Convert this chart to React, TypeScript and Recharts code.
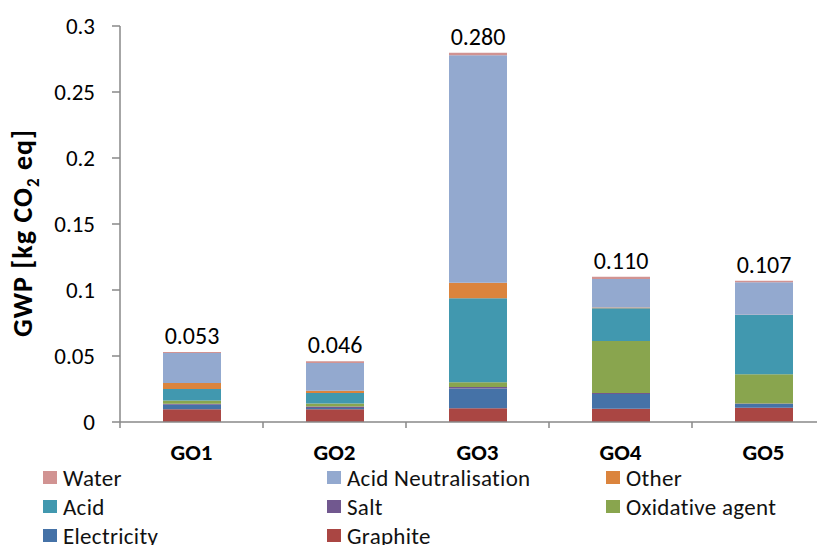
import React from 'react';
import { BarChart, Bar, XAxis, YAxis, Legend, LabelList } from 'recharts';

const categories = ['GO1', 'GO2', 'GO3', 'GO4', 'GO5'];
const graphite = [0.0096, 0.0096, 0.0104, 0.0101, 0.0108];
const electricity = [0.0035, 0.001, 0.0149, 0.0111, 0.0028];
const salt = [0.0008, 0.0012, 0.0013, 0.0007, 0.0005];
const oxidative = [0.0023, 0.0023, 0.0035, 0.0394, 0.022];
const acid = [0.0088, 0.0078, 0.0636, 0.0248, 0.0449];
const other = [0.0045, 0.0018, 0.0118, 0.0007, 0.0003];
const acidNeutralisation = [0.0227, 0.021, 0.1723, 0.0215, 0.0245];
const water = [0.0008, 0.0013, 0.002, 0.0018, 0.0013];
const totals = ['0.053', '0.046', '0.280', '0.110', '0.107'];
const yTicks = [0, 0.05, 0.1, 0.15, 0.2, 0.25, 0.3];

const data = categories.map((name, i) => ({
  name,
  graphite: graphite[i],
  electricity: electricity[i],
  salt: salt[i],
  oxidative: oxidative[i],
  acid: acid[i],
  other: other[i],
  acidNeutralisation: acidNeutralisation[i],
  water: water[i],
  total: totals[i],
}));

// stack order bottom -> top
const series = [
  { key: 'graphite', name: 'Graphite', color: '#AA4643' },
  { key: 'electricity', name: 'Electricity', color: '#4572A7' },
  { key: 'salt', name: 'Salt', color: '#71588F' },
  { key: 'oxidative', name: 'Oxidative agent', color: '#89A54E' },
  { key: 'acid', name: 'Acid', color: '#4198AF' },
  { key: 'other', name: 'Other', color: '#DB843D' },
  { key: 'acidNeutralisation', name: 'Acid Neutralisation', color: '#93A9CF' },
  { key: 'water', name: 'Water', color: '#D19392' },
];

// legend reading order (3 columns)
const legendOrder = ['water', 'acidNeutralisation', 'other', 'acid', 'salt', 'oxidative', 'electricity', 'graphite'];
const legendCols = [43, 327, 606];

const FONT = 'Carlito, Lato, "Open Sans", sans-serif';

const renderLegend = () => (
  <div style={{ position: 'relative', height: 96, fontFamily: FONT, fontSize: 23, color: '#111', letterSpacing: 0.3 }}>
    {legendOrder.map((k, i) => {
      const s = series.find((x) => x.key === k)!;
      const col = i % 3;
      const row = Math.floor(i / 3);
      return (
        <div
          key={k}
          style={{
            position: 'absolute',
            left: legendCols[col],
            top: 14 + row * 29,
            height: 29,
            display: 'flex',
            alignItems: 'center',
            whiteSpace: 'nowrap',
          }}
        >
          <span style={{ width: 14, height: 13, background: s.color, display: 'inline-block', marginRight: 6 }} />
          <span>{s.name}</span>
        </div>
      );
    })}
  </div>
);

// category label + a small divider tick on the left edge of each band
const XTick = (props: any) => {
  const { x, y, payload, width, visibleTicksCount } = props;
  const band = width / (visibleTicksCount || categories.length);
  const axisY = y - 8;
  return (
    <g>
      <line x1={x - band / 2} x2={x - band / 2} y1={axisY} y2={axisY + 6} stroke="#888" strokeWidth={1.5} />
      <text x={x} y={y + 30} textAnchor="middle" fontFamily={FONT} fontSize={23} fontWeight="bold" fill="#000">
        {payload.value}
      </text>
    </g>
  );
};

const YTick = (props: any) => {
  const { x, y, payload } = props;
  return (
    <text x={x - 15} y={y + 8} textAnchor="end" fontFamily={FONT} fontSize={23} fill="#000">
      {payload.value}
    </text>
  );
};

const YLabel = () => (
  <text
    transform="translate(32,233) rotate(-90)"
    textAnchor="middle"
    fontFamily={FONT}
    fontSize={28}
    fontWeight="bold"
    letterSpacing={1}
    fill="#000"
  >
    GWP [kg CO
    <tspan fontSize={17} dy={7}>2</tspan>
    <tspan dy={-7}> eq]</tspan>
  </text>
);

const TotalLabel = (props: any) => {
  const { x, y, width, value } = props;
  return (
    <text x={x + width / 2} y={y - 8} textAnchor="middle" fontFamily={FONT} fontSize={24} fill="#000">
      {value}
    </text>
  );
};

export default function App() {
  return (
    <div style={{ margin: '-8px 0 0 -8px', width: 825, height: 545, overflow: 'hidden', background: '#fff', position: 'relative' }}>
      <BarChart
        width={835}
        height={545}
        data={data}
        margin={{ top: 26, right: 0, bottom: 0, left: 0 }}
        barSize={58}
      >
        <XAxis
          dataKey="name"
          height={27}
          tick={<XTick />}
          axisLine={{ stroke: '#888', strokeWidth: 1.5 }}
          tickLine={false}
        />
        <YAxis
          width={120}
          domain={[0, 0.3]}
          ticks={yTicks}
          tick={<YTick />}
          tickSize={8}
          axisLine={{ stroke: '#888', strokeWidth: 1.5 }}
          tickLine={{ stroke: '#888', strokeWidth: 1.5 }}
          interval={0}
        />
        <Legend verticalAlign="bottom" align="left" height={96} content={renderLegend} wrapperStyle={{ left: 0, width: 825 }} />
        {series.map((s) => (
          <Bar key={s.key} dataKey={s.key} name={s.name} stackId="a" fill={s.color} isAnimationActive={false}>
            {s.key === 'water' && <LabelList dataKey="total" content={<TotalLabel />} />}
          </Bar>
        ))}
      </BarChart>
      <svg style={{ position: 'absolute', left: 0, top: 0, pointerEvents: 'none' }} width={825} height={545}>
        <YLabel />
      </svg>
    </div>
  );
}
